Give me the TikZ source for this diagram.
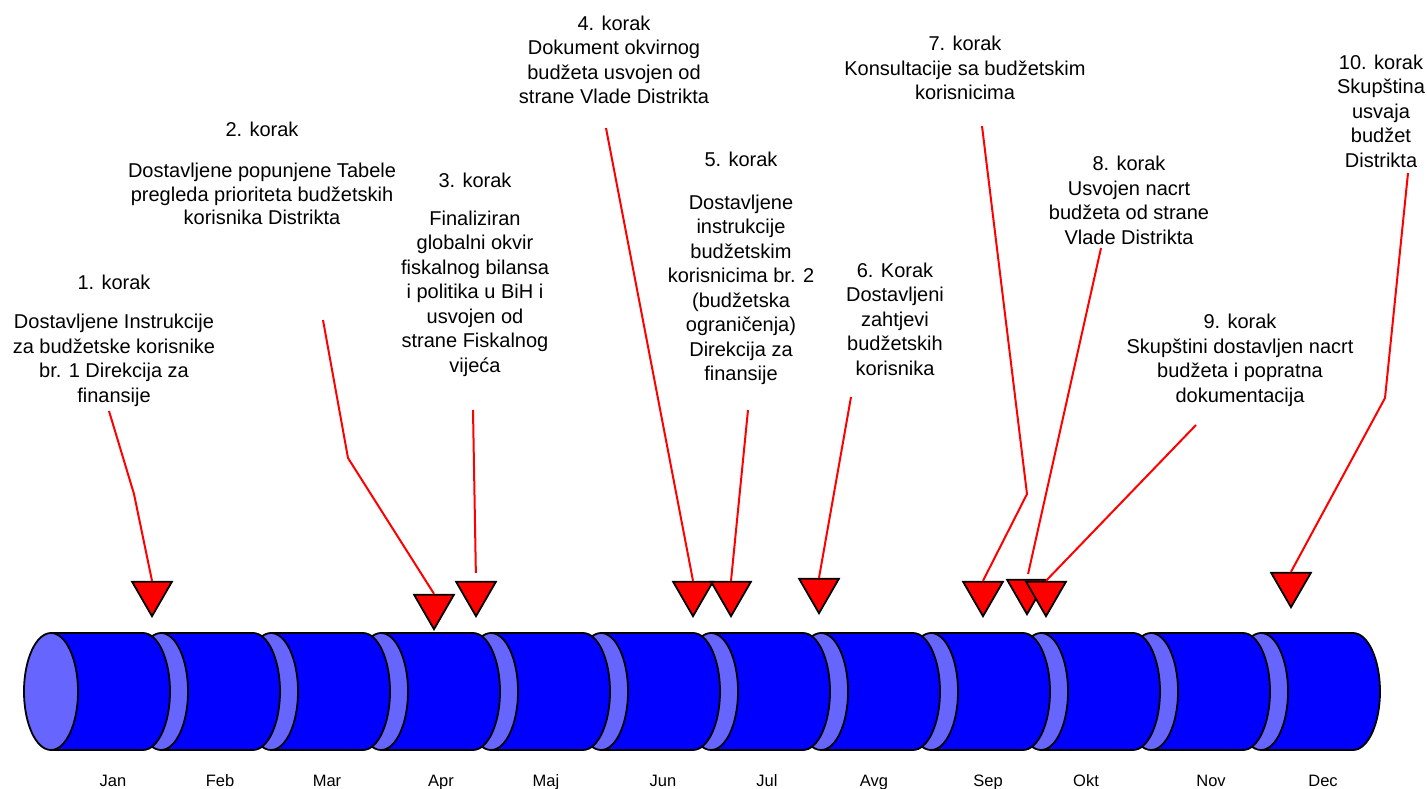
\documentclass[tikz,border=0pt]{standalone}
\usepackage{fontspec}
\setmainfont{Liberation Sans}
\usetikzlibrary{shapes.geometric}

\definecolor{canblue}{RGB}{0,0,255}
\definecolor{canface}{RGB}{102,102,255}

\begin{document}
\begin{tikzpicture}[x=1pt,y=-1pt]

\tikzset{korak/.style = {align=center, inner sep=0pt, font=\fontsize{20}{24.5}\selectfont}}
\tikzset{month/.style = {inner sep=0pt, anchor=base, font=\fontsize{16.5}{18}\selectfont}}
\tikzset{marker/.style = {regular polygon, regular polygon sides=3, shape border rotate=180,
  draw, fill=red, line width=1.8pt, minimum size=46pt, inner sep=0pt, anchor=south}}
\tikzset{link/.style = {red, line width=2pt}}

\useasboundingbox (0,0) rectangle (1427,789);

%cylinder
\foreach \c in {1261,1151,...,51} {
  \draw[line width=1.8pt, fill=canblue] (\c,633) -- (\c+92,633)
    arc[start angle=90, end angle=-90, x radius=27pt, y radius=58.5pt] -- (\c,750) -- cycle;
  \draw[line width=1.8pt, fill=canface] (\c,691.5) ellipse [x radius=27pt, y radius=58.5pt];
}

%months
\node[month] (jan) at (113,786) {Jan};
\node[month] (feb) at (220,786) {Feb};
\node[month] (mar) at (327,786) {Mar};
\node[month] (apr) at (441,786) {Apr};
\node[month] (maj) at (546,786) {Maj};
\node[month] (jun) at (663,786) {Jun};
\node[month] (jul) at (767,786) {Jul};
\node[month] (avg) at (874,786) {Avg};
\node[month] (sep) at (988,786) {Sep};
\node[month] (okt) at (1086,786) {Okt};
\node[month] (nov) at (1211,786) {Nov};
\node[month] (dec) at (1323,786) {Dec};

%steps
\node[korak] (s1) at (114,340.5) {1. korak\\[15pt] Dostavljene Instrukcije\\za budžetske korisnike\\br. 1 Direkcija za\\finansije};
\node[korak, font=\fontsize{20}{23.5}\selectfont] (s2) at (262,173.5) {2. korak\\[18pt] Dostavljene popunjene Tabele\\pregleda prioriteta budžetskih\\korisnika Distrikta};
\node[korak] (s3) at (475,275) {3. korak\\[13pt] Finaliziran\\globalni okvir\\fiskalnog bilansa\\i politika u BiH i\\usvojen od\\strane Fiskalnog\\vijeća};
\node[korak] (s4) at (614,60) {4. korak\\Dokument okvirnog\\budžeta usvojen od\\strane Vlade Distrikta};
\node[korak] (s5) at (741,268.5) {5. korak\\[18pt] Dostavljene\\instrukcije\\budžetskim\\korisnicima br. 2\\(budžetska\\ograničenja)\\Direkcija za\\finansije};
\node[korak] (s6) at (895,319) {6. Korak\\Dostavljeni\\zahtjevi\\budžetskih\\korisnika};
\node[korak] (s7) at (965,68) {7. korak\\Konsultacije sa budžetskim\\korisnicima};
\node[korak] (s8) at (1129,200.5) {8. korak\\Usvojen nacrt\\budžeta od strane\\Vlade Distrikta};
\node[korak] (s9) at (1240,360.5) {9. korak\\Skupštini dostavljen nacrt\\budžeta i popratna\\dokumentacija};
\node[korak] (s10) at (1381,111) {10. korak\\Skupština\\usvaja\\budžet\\Distrikta};

%markers
\node[marker] (t1) at (152,618) {};
\node[marker] (t2) at (434,631) {};
\node[marker] (t3) at (476,618) {};
\node[marker] (t4) at (693,618) {};
\node[marker] (t5) at (731,618) {};
\node[marker] (t6) at (819,615) {};
\node[marker] (t7) at (983,618) {};
\node[marker] (t8) at (1027,616) {};
\node[marker] (t9) at (1046,618) {};
\node[marker] (t10) at (1291,609) {};

%links
\coordinate (a1) at (109,411);
\coordinate (b1) at (134,494);
\coordinate (a2) at (323,320);
\coordinate (b2) at (348,458);
\coordinate (a3) at (473,410);
\coordinate (a4) at (606,128);
\coordinate (a5) at (748,410);
\coordinate (a6) at (851,397);
\coordinate (a7) at (982,126);
\coordinate (b7) at (1027,494);
\coordinate (a8) at (1101,248);
\coordinate (a9) at (1196,425);
\coordinate (a10) at (1408,173);
\coordinate (b10) at (1385,398);
\draw[link] (a1) -- (b1) -- (t1.north);
\draw[link] (a2) -- (b2) -- (t2.north);
\draw[link, shorten >=8pt] (a3) -- (t3.north);
\draw[link] (a4) -- (t4.north);
\draw[link] (a5) -- (t5.north);
\draw[link] (a6) -- (t6.north);
\draw[link] (a7) -- (b7) -- (t7.north);
\draw[link, shorten >=5pt] (a8) -- (t8.north);
\draw[link] (a9) -- (t9.north);
\draw[link] (a10) -- (b10) -- (t10.north);

\end{tikzpicture}
\end{document}
